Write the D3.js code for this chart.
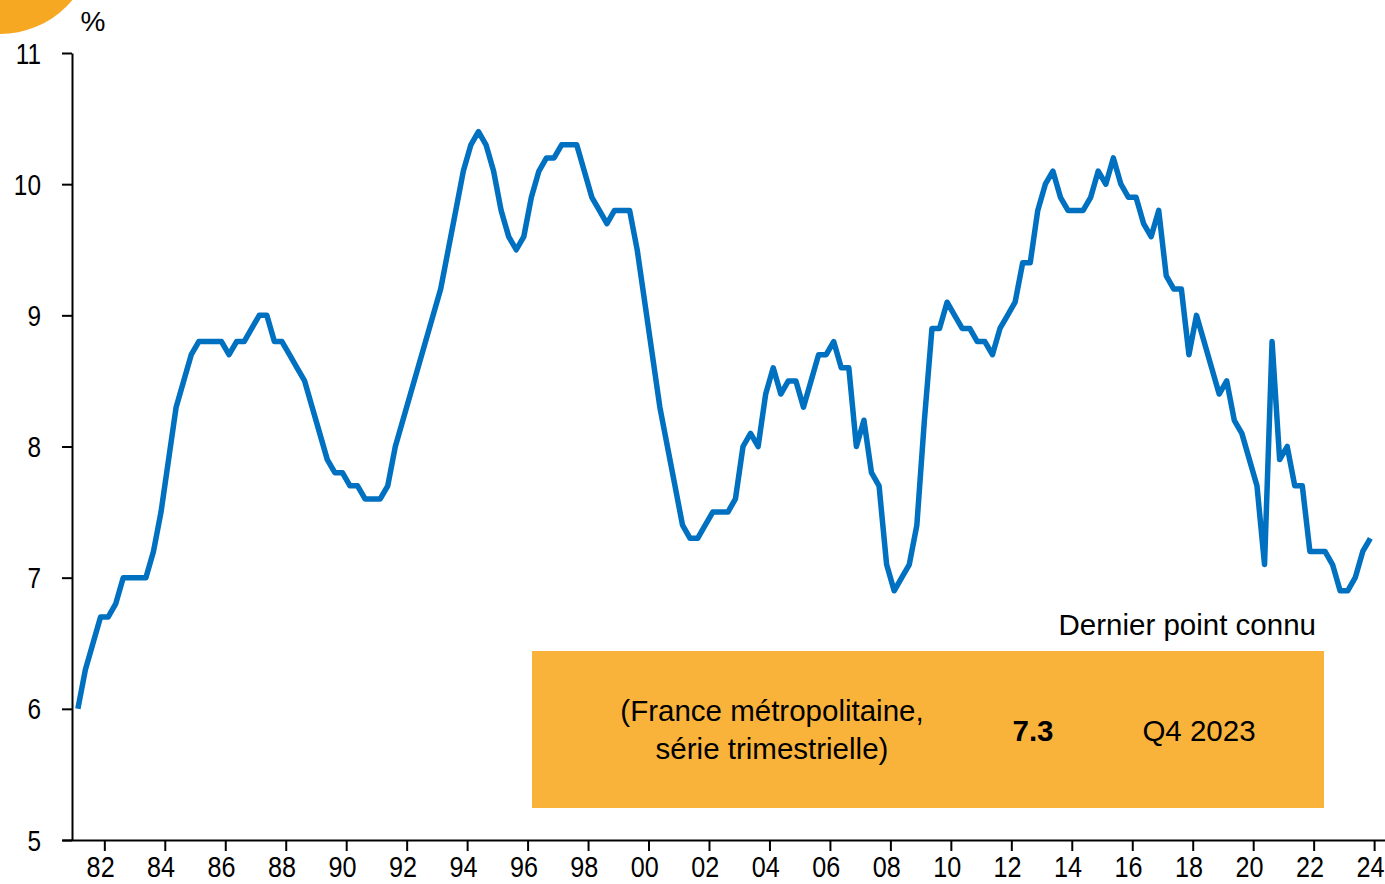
<!DOCTYPE html>
<html>
<head>
<meta charset="utf-8">
<script src="https://cdn.jsdelivr.net/npm/d3@7"></script>
<style>
  html, body { margin: 0; padding: 0; background: #fff; }
  svg { display: block; }
</style>
</head>
<body>
<div id="chart"></div>
<script>
// Taux de chômage, France métropolitaine, trimestriel 1981 T1 -> 2023 T4
const firstYear = 1981;
const rate = [
  6.0, 6.3, 6.5, 6.7,   // 1981
  6.7, 6.8, 7.0, 7.0,   // 1982
  7.0, 7.0, 7.2, 7.5,   // 1983
  7.9, 8.3, 8.5, 8.7,   // 1984
  8.8, 8.8, 8.8, 8.8,   // 1985
  8.7, 8.8, 8.8, 8.9,   // 1986
  9.0, 9.0, 8.8, 8.8,   // 1987
  8.7, 8.6, 8.5, 8.3,   // 1988
  8.1, 7.9, 7.8, 7.8,   // 1989
  7.7, 7.7, 7.6, 7.6,   // 1990
  7.6, 7.7, 8.0, 8.2,   // 1991
  8.4, 8.6, 8.8, 9.0,   // 1992
  9.2, 9.5, 9.8, 10.1,  // 1993
  10.3, 10.4, 10.3, 10.1, // 1994
  9.8, 9.6, 9.5, 9.6,   // 1995
  9.9, 10.1, 10.2, 10.2, // 1996
  10.3, 10.3, 10.3, 10.1, // 1997
  9.9, 9.8, 9.7, 9.8,   // 1998
  9.8, 9.8, 9.5, 9.1,   // 1999
  8.7, 8.3, 8.0, 7.7,   // 2000
  7.4, 7.3, 7.3, 7.4,   // 2001
  7.5, 7.5, 7.5, 7.6,   // 2002
  8.0, 8.1, 8.0, 8.4,   // 2003
  8.6, 8.4, 8.5, 8.5,   // 2004
  8.3, 8.5, 8.7, 8.7,   // 2005
  8.8, 8.6, 8.6, 8.0,   // 2006
  8.2, 7.8, 7.7, 7.1,   // 2007
  6.9, 7.0, 7.1, 7.4,   // 2008
  8.2, 8.9, 8.9, 9.1,   // 2009
  9.0, 8.9, 8.9, 8.8,   // 2010
  8.8, 8.7, 8.9, 9.0,   // 2011
  9.1, 9.4, 9.4, 9.8,   // 2012
  10.0, 10.1, 9.9, 9.8, // 2013
  9.8, 9.8, 9.9, 10.1,  // 2014
  10.0, 10.2, 10.0, 9.9, // 2015
  9.9, 9.7, 9.6, 9.8,   // 2016
  9.3, 9.2, 9.2, 8.7,   // 2017
  9.0, 8.8, 8.6, 8.4,   // 2018
  8.5, 8.2, 8.1, 7.9,   // 2019
  7.7, 7.1, 8.8, 7.9,   // 2020
  8.0, 7.7, 7.7, 7.2,   // 2021
  7.2, 7.2, 7.1, 6.9,   // 2022
  6.9, 7.0, 7.2, 7.3    // 2023
];
const xTicks = d3.range(1982, 2025, 2);
const yTicks = [5, 6, 7, 8, 9, 10, 11];
const lastValue = "7.3";
const lastPeriod = "Q4 2023";
const boxLines = ["(France métropolitaine,", "série trimestrielle)"];

const width = 1385, height = 884;

// quarter -> decimal date, point placed mid-quarter
const data = rate.map((v, i) => ({
  t: firstYear + Math.floor(i / 4) + (i % 4) / 4 + 0.125,
  v: v
}));

const svg = d3.select("#chart").append("svg")
  .attr("width", width)
  .attr("height", height);

const x = d3.scaleLinear()
  .domain([1980.6, 2024.36])
  .range([62, 1385]);

const y = d3.scaleLinear()
  .domain([5, 11])
  .range([840, 53]);

// orange corner disc
svg.append("circle")
  .attr("cx", 0).attr("cy", -60).attr("r", 94)
  .attr("fill", "#F7A823");

// box "dernier point connu"
const boxFont = "'Liberation Sans', Arial, sans-serif";

svg.append("text")
  .attr("x", 1316).attr("y", 635)
  .attr("text-anchor", "end")
  .attr("font-family", boxFont)
  .attr("font-size", 29.5)
  .text("Dernier point connu");

svg.append("rect")
  .attr("x", 532).attr("y", 651)
  .attr("width", 792).attr("height", 157)
  .attr("fill", "#F9B33B");

const boxText = svg.append("text")
  .attr("text-anchor", "middle")
  .attr("font-family", boxFont)
  .attr("font-size", 29.5);
boxLines.forEach((l, i) => {
  boxText.append("tspan")
    .attr("x", 772).attr("y", 721 + i * 38)
    .text(l);
});

svg.append("text")
  .attr("x", 1033).attr("y", 741)
  .attr("text-anchor", "middle")
  .attr("font-family", boxFont)
  .attr("font-size", 29.5)
  .attr("font-weight", "bold")
  .text(lastValue);

svg.append("text")
  .attr("x", 1199).attr("y", 741)
  .attr("text-anchor", "middle")
  .attr("font-family", boxFont)
  .attr("font-size", 29.5)
  .text(lastPeriod);

// axes
const tickFont = "'Liberation Sans', sans-serif";
const squeeze = 0.84;

const gx = svg.append("g")
  .attr("transform", `translate(0,${y(5)})`)
  .call(d3.axisBottom(x)
    .tickValues(xTicks)
    .tickFormat(d => String(d % 100).padStart(2, "0"))
    .tickSize(11)
    .tickSizeOuter(0)
    .tickPadding(5));

const gy = svg.append("g")
  .attr("transform", `translate(${x(1980.6) + 10},0)`)
  .call(d3.axisLeft(y)
    .tickValues(yTicks)
    .tickFormat(d3.format("d"))
    .tickSize(10)
    .tickSizeOuter(0)
    .tickPadding(27));

[gx, gy].forEach(g => {
  g.select(".domain").attr("stroke", "#000").attr("stroke-width", 2);
  g.selectAll(".tick line").attr("stroke", "#000").attr("stroke-width", 2);
  g.selectAll(".tick text")
    .attr("fill", "#000")
    .attr("font-family", tickFont)
    .attr("transform", `scale(${squeeze},1)`);
});
gx.selectAll(".tick text").attr("font-size", 30).attr("dx", -5);
gy.selectAll(".tick text").attr("font-size", 29).attr("dy", "0.35em");

svg.append("text")
  .attr("x", 93).attr("y", 31)
  .attr("text-anchor", "middle")
  .attr("font-family", tickFont)
  .attr("font-size", 28)
  .text("%");

// series
const line = d3.line()
  .x(d => x(d.t))
  .y(d => y(d.v));

svg.append("path")
  .datum(data)
  .attr("fill", "none")
  .attr("stroke", "#0070C0")
  .attr("stroke-width", 5.5)
  .attr("stroke-linejoin", "round")
  .attr("d", line);
</script>
</body>
</html>
